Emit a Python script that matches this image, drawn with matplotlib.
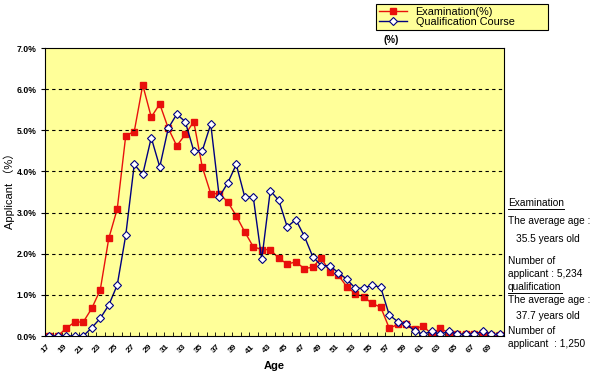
import numpy as np
import matplotlib
matplotlib.use("Agg")
import matplotlib.pyplot as plt
from matplotlib.lines import Line2D

plt.rcParams.update({"font.family": ["Liberation Sans", "DejaVu Sans", "Noto Sans CJK JP"]})

AGES = np.arange(17, 71)
EXAM = [0.00, 0.00, 0.19, 0.34, 0.34, 0.67, 1.12, 2.37, 3.09, 4.87,
        4.97, 6.10, 5.32, 5.64, 5.05, 4.62, 4.90, 5.21, 4.11, 3.46,
        3.46, 3.26, 2.92, 2.53, 2.17, 2.10, 2.10, 1.89, 1.75, 1.80,
        1.64, 1.67, 1.90, 1.56, 1.48, 1.20, 1.03, 0.95, 0.79, 0.70,
        0.19, 0.28, 0.28, 0.18, 0.24, 0.04, 0.19, 0.07, 0.04, 0.04,
        0.04, 0.07, 0.03, 0.02]
QUAL = [0.00, 0.00, 0.00, 0.00, 0.00, 0.20, 0.43, 0.75, 1.24, 2.45,
        4.17, 3.93, 4.82, 4.11, 5.05, 5.39, 5.21, 4.50, 4.50, 5.15,
        3.38, 3.72, 4.17, 3.38, 3.38, 1.86, 3.53, 3.30, 2.65, 2.83,
        2.43, 1.93, 1.71, 1.71, 1.54, 1.38, 1.16, 1.16, 1.24, 1.18,
        0.51, 0.35, 0.29, 0.12, 0.04, 0.12, 0.04, 0.12, 0.04, 0.04,
        0.04, 0.12, 0.04, 0.04]
YTICKS = [0, 1, 2, 3, 4, 5, 6, 7]

W, H = 597, 376
fig = plt.figure(figsize=(W / 100, H / 100), dpi=100)
ax = fig.add_axes([45 / W, 1 - 336 / H, 459 / W, 288 / H])
ax.set_facecolor("#FFFF99")

x = np.arange(len(AGES))
ax.plot(x, EXAM, "-s", color="#E8100C", lw=1, ms=4, mec="#E8100C", mfc="#E8100C",
        label="Examination(%)")
ax.plot(x, QUAL, "-D", color="#000080", lw=1, ms=3.6, mec="#000080", mfc="white",
        mew=0.8, label="Qualification Course")

ax.set_xlim(-0.5, len(AGES) - 0.5)
ax.set_ylim(0, 7)
ax.set_yticks(YTICKS)
ax.set_yticklabels([f"{v:.1f}%" for v in YTICKS], fontsize=6.2, fontweight="bold")
ax.tick_params(axis="y", direction="out", length=3, pad=3)
for v in YTICKS[1:-1]:
    ax.axhline(v, color="black", lw=0.8, ls=(0, (3, 3)))

ax.set_xticks(x[::2])
ax.set_xticklabels([str(a) for a in AGES[::2]], rotation=45, ha="right", va="center",
                   rotation_mode="anchor", fontsize=6, fontweight="bold")
ax.tick_params(axis="x", which="major", length=0, pad=7)
ax.set_xticks(np.arange(-0.5, len(AGES), 1), minor=True)
ax.tick_params(axis="x", which="minor", direction="in", length=3)
for s in ax.spines.values():
    s.set_linewidth(0.8)

fig.text(274 / W, 1 - 366 / H, "Age", ha="center", va="center", fontsize=8, fontweight="bold")
fig.text(9 / W, 1 - 188 / H, "Applicant （%）", rotation=90, ha="center", va="center",
         fontsize=8)

leg = fig.legend(loc="upper left", bbox_to_anchor=(376 / W, 1 - 33 / H, 172 / W, 29 / H),
                 mode="expand", fontsize=7.8, frameon=True, fancybox=False,
                 edgecolor="black", facecolor="#FFFF99", framealpha=1, handlelength=2.6,
                 borderpad=0.25, labelspacing=0.05, borderaxespad=0)
leg.get_frame().set_linewidth(0.8)
fig.text(383 / W, 1 - 40 / H, "(%)", ha="left", va="center", fontsize=7, fontweight="bold")

notes = [(508, 203, "Examination", True),
         (508, 221, "The average age :", False),
         (516, 239, "35.5 years old", False),
         (508, 261, "Number of", False),
         (508, 274, "applicant : 5,234", False),
         (508, 287, "qualification", True),
         (508, 300, "The average age :", False),
         (516, 316, "37.7 years old", False),
         (508, 331, "Number of", False),
         (508, 344, "applicant  : 1,250", False)]
fig.canvas.draw()
r = fig.canvas.get_renderer()
for px, py, s, under in notes:
    t = fig.text(px / W, 1 - py / H, s, ha="left", va="center", fontsize=7.3)
    if under:
        bb = t.get_window_extent(r)
        yl = bb.y0 - 1
        fig.add_artist(Line2D([bb.x0 / W, bb.x1 / W], [yl / H, yl / H], color="black", lw=0.7))

fig.savefig("out.png", dpi=100)
